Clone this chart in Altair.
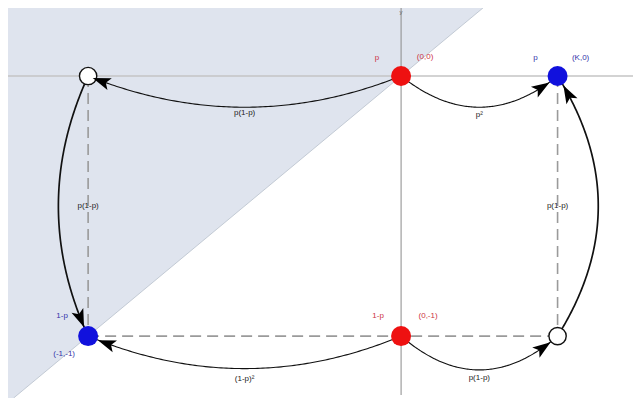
import altair as alt
import pandas as pd
import numpy as np

# ---------------- data ----------------
K = 0.5
node_names = ["A", "B", "C", "D", "E", "F"]
node_x = [-1.0, 0.0, K, -1.0, 0.0, K]
node_y = [0.0, 0.0, 0.0, -1.0, -1.0, -1.0]
node_kind = ["hollow", "red", "blue", "blue", "red", "hollow"]

edge_from = ["B", "B", "A", "F", "E", "E"]
edge_to = ["A", "C", "D", "C", "D", "F"]
edge_label = ["p(1-p)", "p\u00b2", "p(1-p)", "p(1-p)", "(1-p)\u00b2", "p(1-p)"]

node_label_names = ["B", "B", "C", "C", "E", "E", "D", "D"]
node_label_text = ["p", "(0,0)", "p", "(K,0)", "1-p", "(0,-1)", "1-p", "(-1,-1)"]
node_label_kind = ["red", "red", "blue", "blue", "red", "red", "blue", "blue"]

# ---------------- layout ----------------
xmin, xmax = -1.256, 0.741
ymin, ymax = -1.238, 0.2615
W, H = 625, 390
sx = W / (xmax - xmin)
sy = H / (ymax - ymin)

edge_bend_x = [0.0, 0.0, -0.19, 0.26, 0.0, 0.0]
edge_bend_y = [-0.24, -0.24, 0.0, 0.0, -0.25, -0.26]
edge_width = [1.1, 1.1, 1.7, 1.7, 1.1, 1.1]
edge_label_anchor = ["curve", "curve", "chord", "chord", "curve", "curve"]
edge_label_dy = [6, 8, 0, 0, 10, 8]
end_radius = {"hollow": 4, "red": 10, "blue": 9}
end_radius_override = {"F": 9}
ARROW_L = 18

node_label_dx = [-24, 24, -22, 23, -23, 27, -26, -24]
node_label_dy = [-18, -19, -18, -18, -20, -20, -20, 18]

pos = {n: (x, y) for n, x, y in zip(node_names, node_x, node_y)}
kind = dict(zip(node_names, node_kind))

def to_px(x, y):
    return (x - xmin) * sx, (ymax - y) * sy

curve_rows, arrow_rows, elabel_rows = [], [], []
ts = np.linspace(0, 1, 121)
for i, (a, b) in enumerate(zip(edge_from, edge_to)):
    p0 = np.array(pos[a]); p2 = np.array(pos[b])
    c = (p0 + p2) / 2 + np.array([edge_bend_x[i], edge_bend_y[i]])
    pts = [(1 - t) ** 2 * p0 + 2 * (1 - t) * t * c + t ** 2 * p2 for t in ts]
    for t, p in zip(ts, pts):
        curve_rows.append({"edge": i, "t": t, "x": p[0], "y": p[1], "w": edge_width[i]})
    # arrowhead
    r = end_radius_override.get(b, end_radius[kind[b]])
    ex, ey = to_px(*p2)
    target = r + ARROW_L / 2
    for t, p in zip(ts[::-1], pts[::-1]):
        px_, py_ = to_px(*p)
        if np.hypot(px_ - ex, py_ - ey) >= target:
            d = 2 * (1 - t) * (c - p0) + 2 * t * (p2 - c)
            dpx, dpy = d[0] * sx, -d[1] * sy
            ang = (np.degrees(np.arctan2(dpx, -dpy)) + 360) % 360
            arrow_rows.append({"x": p[0], "y": p[1], "angle": float(ang)})
            break
    if edge_label_anchor[i] == "curve":
        m = 0.25 * p0 + 0.5 * c + 0.25 * p2
    else:
        m = (p0 + p2) / 2
    elabel_rows.append({"x": m[0], "y": m[1] - edge_label_dy[i] / sy, "text": edge_label[i]})

curves = pd.DataFrame(curve_rows)
arrows = pd.DataFrame(arrow_rows)
elabels = pd.DataFrame(elabel_rows)

nodes = pd.DataFrame({"name": node_names, "x": node_x, "y": node_y, "kind": node_kind})
colors = {"red": "#ee1111", "blue": "#1111dd"}
txtcol = {"red": "#cc3344", "blue": "#3333aa"}
nl = pd.DataFrame({
    "x": [pos[n][0] + dx / sx for n, dx in zip(node_label_names, node_label_dx)],
    "y": [pos[n][1] - dy / sy for n, dy in zip(node_label_names, node_label_dy)],
    "text": node_label_text,
    "col": [txtcol[k] for k in node_label_kind],
})

xs = alt.Scale(domain=[xmin, xmax], nice=False, zero=False)
ys = alt.Scale(domain=[ymin, ymax], nice=False, zero=False)
def X(f="x"): return alt.X(f"{f}:Q", scale=xs, axis=None)
def Y(f="y"): return alt.Y(f"{f}:Q", scale=ys, axis=None)

shade_df = pd.DataFrame({"x": [xmin, ymin, ymax], "y": [ymin, ymin, ymax], "y2": [ymax] * 3})
shade = alt.Chart(shade_df).mark_area(color="#dfe4ee", opacity=1).encode(
    x=X(), y=Y(), y2="y2:Q")
diag = alt.Chart(pd.DataFrame({"x": [ymin, ymax], "y": [ymin, ymax]})).mark_line(
    color="#b8c0cc", strokeWidth=0.8).encode(x=X(), y=Y())

haxis = alt.Chart(pd.DataFrame({"y": [0.0]})).mark_rule(color="#c4c4c4", strokeWidth=1.6).encode(
    y=Y(), x=alt.value(0), x2=alt.value(W))
vaxis = alt.Chart(pd.DataFrame({"x": [0.0]})).mark_rule(color="#8a8a8a", strokeWidth=1).encode(
    x=X(), y=alt.value(0), y2=alt.value(H - 3))
ylab = alt.Chart(pd.DataFrame({"x": [0.0], "y": [ymax], "t": ["y"]})).mark_text(
    fontSize=6, color="#666", dy=1, baseline="top", font="Liberation Sans").encode(
    x=X(), y=Y(), text="t:N")

dash_df = pd.DataFrame({
    "seg": [0, 0, 1, 1, 2, 2],
    "x": [pos["A"][0], pos["D"][0], pos["D"][0], pos["F"][0], pos["C"][0], pos["F"][0]],
    "y": [pos["A"][1], pos["D"][1], pos["D"][1], pos["F"][1], pos["C"][1], pos["F"][1]],
})
dashes = alt.Chart(dash_df).mark_line(color="#9a9a9a", strokeWidth=1.6, strokeDash=[11, 6]).encode(
    x=X(), y=Y(), detail="seg:N")

curve_layer = alt.Chart(curves).mark_line(color="#111").encode(
    x=X(), y=Y(), detail="edge:N", order="t:Q",
    strokeWidth=alt.StrokeWidth("w:Q", scale=None))

arrow_layer = alt.Chart(arrows).mark_point(
    shape="M0,-1L0.7,1L0,0.55L-0.7,1Z", filled=True, color="#000", size=ARROW_L ** 2, opacity=1
).encode(x=X(), y=Y(), angle=alt.Angle("angle:Q", scale=None))

hollow = alt.Chart(nodes[nodes.kind == "hollow"]).mark_point(
    shape="circle", filled=True, fill="white", stroke="#111", strokeWidth=1.4, size=300, opacity=1
).encode(x=X(), y=Y())
filled = alt.Chart(nodes[nodes.kind != "hollow"]).mark_point(
    shape="circle", filled=True, size=400, opacity=1
).encode(x=X(), y=Y(), color=alt.Color("kind:N", scale=alt.Scale(
    domain=["red", "blue"], range=[colors["red"], colors["blue"]]), legend=None))

elab = alt.Chart(elabels).mark_text(fontSize=8, color="#222", font="Liberation Sans").encode(
    x=X(), y=Y(), text="text:N")
nlab = alt.Chart(nl).mark_text(fontSize=8, font="Liberation Sans").encode(
    x=X(), y=Y(), text="text:N", color=alt.Color("col:N", scale=None))

chart = alt.layer(shade, diag, haxis, vaxis, ylab, dashes, curve_layer, hollow, arrow_layer,
                  filled, elab, nlab).properties(
    width=W, height=H, padding=0, autosize=alt.AutoSizeParams(type="none")
).configure_view(stroke=None)

chart.save("out.html", embed_options={"renderer": "svg", "actions": False})
